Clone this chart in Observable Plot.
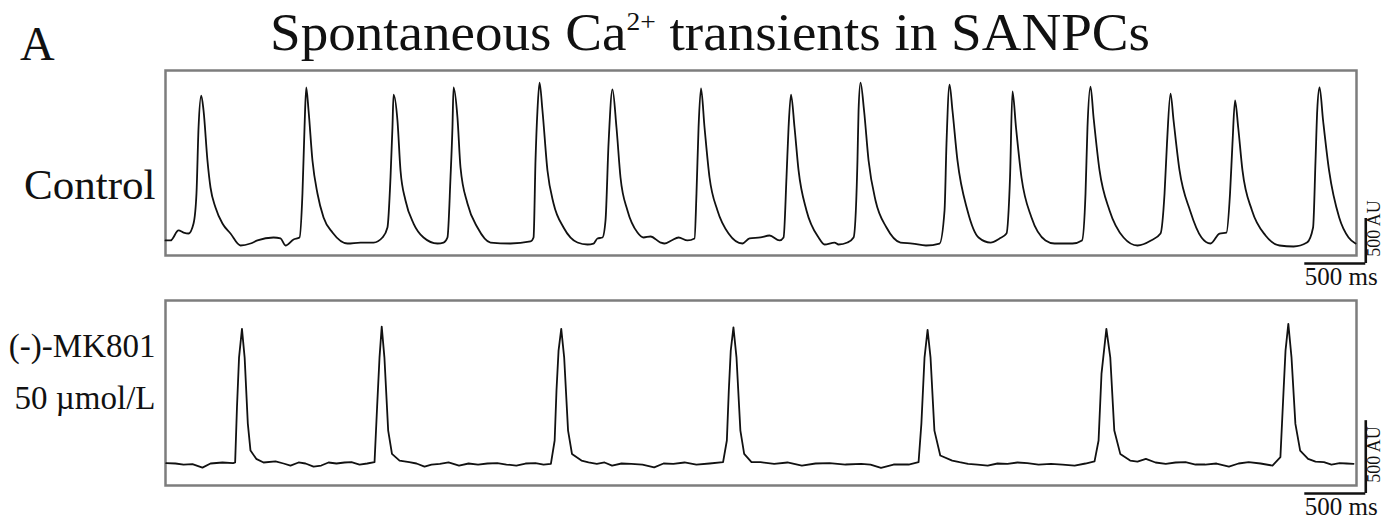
<!DOCTYPE html>
<html>
<head>
<meta charset="utf-8">
<script src="https://cdn.jsdelivr.net/npm/d3@7"></script>
<script src="https://cdn.jsdelivr.net/npm/@observablehq/plot@0.6"></script>
<style>
  html, body { margin: 0; padding: 0; background: #fff; }
  #fig { position: relative; width: 1384px; height: 523px; overflow: hidden; font-family: "Liberation Serif", serif; color: #111; }
  #panelA { position: absolute; left: 20px; top: 20px; font-size: 48px; line-height: 48px; }
  #title { position: absolute; left: 270px; top: 7px; font-size: 52px; line-height: 52px; white-space: nowrap; transform-origin: 0 0; }
  #title sup { font-size: 0.5em; vertical-align: 0.78em; line-height: 0; }
  #top { position: absolute; left: 0; top: 62px; }
  #bottom { position: absolute; left: 0; top: 292px; }
</style>
</head>
<body>
<div id="fig">
  <div id="panelA">A</div>
  <div id="title">Spontaneous Ca<sup>2+</sup> transients in SANPCs</div>
  <div id="top"></div>
  <div id="bottom"></div>
</div>
<script>
// ---- Control trace: time (ms) and fluorescence (AU above baseline)
const controlTime = [
  0,41,107,148,189,230,254,271,293,312,344,369,410,467,533,
  615,697,754,886,943,984,1050,1099,1123,1140,1154,1173,1205,1246,1296,1369,
  1492,1599,1706,1779,1820,1845,1861,1870,1902,1927,1968,2034,2116,
  2230,2280,2312,2337,2353,2362,2394,2419,2476,2558,2665,
  2829,2993,3018,3034,3050,3067,3091,3132,3182,3264,3378,
  3460,3510,3542,3583,3608,3633,3665,3698,3731,3788,3870,3920,3977,4059,
  4092,4149,4207,4280,4338,4354,4371,4391,4420,4461,4526,4617,4731,
  4789,4879,4953,5035,5068,5092,5109,5129,5158,5191,5256,5355,
  5404,5486,5519,5592,5642,5674,5683,5699,5728,5765,5822,5912,6027,
  6125,6236,6347,6388,6404,6429,6453,6494,6576,6667,6765,
  6839,6896,6925,6945,6974,7019,7101,7216,7290,
  7437,7515,7544,7560,7585,7610,7659,7741,7856,7970,
  8081,8159,8192,8212,8241,8266,8315,8401,8495,8569,
  8643,8700,8729,8749,8770,8796,8831,8909,9020,9135,9250,
  9360,9410,9430,9444,9463,9492,9541,9624,9701,9758
];
const controlAU = [
  17,17,128,105,94,205,538,1271,1626,1460,905,605,383,205,94,
  -39,-17,17,50,39,-39,28,50,538,1271,1715,1460,905,538,272,105,
  -17,-6,-6,50,161,716,1271,1637,1349,794,461,205,50,
  -17,-6,50,716,1271,1715,1382,827,427,161,-6,
  -17,6,50,905,1460,1770,1460,794,427,161,-6,
  -28,-17,39,50,239,1093,1693,1271,716,350,105,50,61,-6,
  -17,17,50,17,39,538,1271,1704,1271,716,350,94,-17,
  39,50,72,17,50,716,1271,1637,1271,794,350,50,
  -28,-6,-28,-6,50,905,1460,1770,1460,905,461,161,-6,
  -17,-39,-17,350,1093,1748,1460,905,350,50,-6,
  39,94,716,1671,1271,716,272,17,-17,
  -17,17,538,1271,1726,1382,794,350,50,-39,
  17,94,538,1093,1648,1349,794,350,50,-17,
  94,105,538,1093,1571,1271,794,350,72,-39,-50,
  -6,161,905,1460,1715,1349,794,272,50,-17
];
// ---- (-)-MK801 50 µmol/L trace
const mk801Time = [
  6,82,148,221,303,369,467,555,571,586,603,627,649,675,697,744,804,
  902,968,1025,1091,1148,1214,1277,1337,1402,1468,1525,1591,1654,1714,1735,1755,1773,1795,1826,1857,1919,
  1999,2058,2124,2181,2250,2321,2407,2485,2563,2640,2721,2796,2877,2952,3034,3100,3160,3191,3206,3223,3245,3269,3301,3333,3411,
  3469,3537,3600,3662,3739,3819,3911,4007,4084,4164,4256,4353,4461,4572,4603,4619,4635,4657,4682,4714,4745,4805,
  4879,4991,5100,5218,5330,5445,5576,5705,5781,5867,5970,6094,6175,6198,6224,6249,6273,6305,6353,6451,
  6511,6581,6658,6742,6822,6904,6986,7067,7159,7261,7355,7455,7544,7618,7651,7675,7715,7747,7780,7829,7910,
  7970,8039,8118,8202,8282,8364,8446,8525,8618,8720,8799,8882,8979,9077,9142,9168,9184,9207,9233,9265,9304,9369,9430,9499,9561,9627,9684,9742
];
const mk801AU = [
  3,1,-6,-3,-27,1,8,3,8,385,728,925,728,275,90,33,8,
  16,1,-13,8,1,-20,-13,8,1,8,10,-6,1,10,387,730,941,730,227,67,21,
  10,1,-20,-6,-1,8,-13,1,-6,1,3,-6,-13,1,3,-6,-1,159,502,776,925,730,227,67,21,
  8,-1,8,-13,1,-1,-6,-25,1,-1,8,-6,1,10,159,502,776,936,730,227,67,10,
  10,-1,8,-13,1,3,-6,-1,-6,-29,-6,-6,10,273,730,918,730,227,56,21,
  10,-1,-6,-13,1,-1,8,3,-6,-1,-6,-13,1,16,159,616,925,730,227,67,21,
  14,33,8,-1,8,10,-6,-6,1,-20,1,10,1,-13,44,502,776,960,730,273,90,33,14,10,-6,3,1,-1
];
const rowLabels = ["Control", "(-)-MK801", "50 \u00b5mol/L"];
const scaleMs = 500;       // horizontal scale bar (ms)
const scaleAU = 500;       // vertical scale bar (AU)
const scaleLabels = ["500 ms", "500 AU"];

const toRows = (T, V) => T.map((t, i) => ({t, v: V[i]}));
const control = toRows(controlTime, controlAU);
const mk801 = toRows(mk801Time, mk801AU);

const FONT = "Liberation Serif";
const xDomain = [0, 9766];

function panel({data, height, marginBottom, yDomain, barY, barX, auMid, curve, labels}) {
  return Plot.plot({
    width: 1384, height,
    marginLeft: 165, marginRight: 28, marginTop: 8, marginBottom,
    x: {domain: xDomain, axis: null},
    y: {domain: yDomain, axis: null},
    style: {fontFamily: FONT, background: "transparent", overflow: "visible", color: "#111"},
    marks: [
      Plot.frame({stroke: "#7d7d7d", strokeWidth: 2.5}),
      Plot.line(data, {x: "t", y: "v", stroke: "#111", strokeWidth: 1.8, curve}),
      Plot.ruleY([barY], {x1: barX - scaleMs, x2: barX, stroke: "#111", strokeWidth: 2.6}),
      Plot.ruleX([barX], {y1: barY, y2: barY + scaleAU, stroke: "#111", strokeWidth: 2.6}),
      Plot.text([scaleLabels[0]], {x: barX - scaleMs, y: barY, text: d => d, textAnchor: "start", lineAnchor: "top", dy: 4, fontSize: 25, fill: "#111"}),
      Plot.text([scaleLabels[1]], {x: 9914, y: auMid, text: d => d, rotate: -90, fontSize: 18, fill: "#111"}),
      ...labels.map(l => Plot.text([l.text], {frameAnchor: "left", text: d => d, textAnchor: "end", dx: -10, dy: l.dy, fontSize: l.size, fill: "#111"}))
    ]
  });
}

document.getElementById("top").append(panel({
  data: control, height: 240, marginBottom: 47, yDomain: [-150, 1904],
  barY: -239, barX: 9842, auMid: 150, curve: "monotone-x",
  labels: [{text: rowLabels[0], dy: 22, size: 43}]
}));
document.getElementById("bottom").append(panel({
  data: mk801, height: 231, marginBottom: 38, yDomain: [-150, 1120],
  barY: -205, barX: 9842, auMid: 62, curve: "linear",
  labels: [{text: rowLabels[1], dy: -47, size: 33}, {text: rowLabels[2], dy: 5, size: 33}]
}));

// fit title to its width in the figure
const title = document.getElementById("title");
const w = title.getBoundingClientRect().width;
title.style.transform = `scaleX(${880 / w})`;
</script>
</body>
</html>
